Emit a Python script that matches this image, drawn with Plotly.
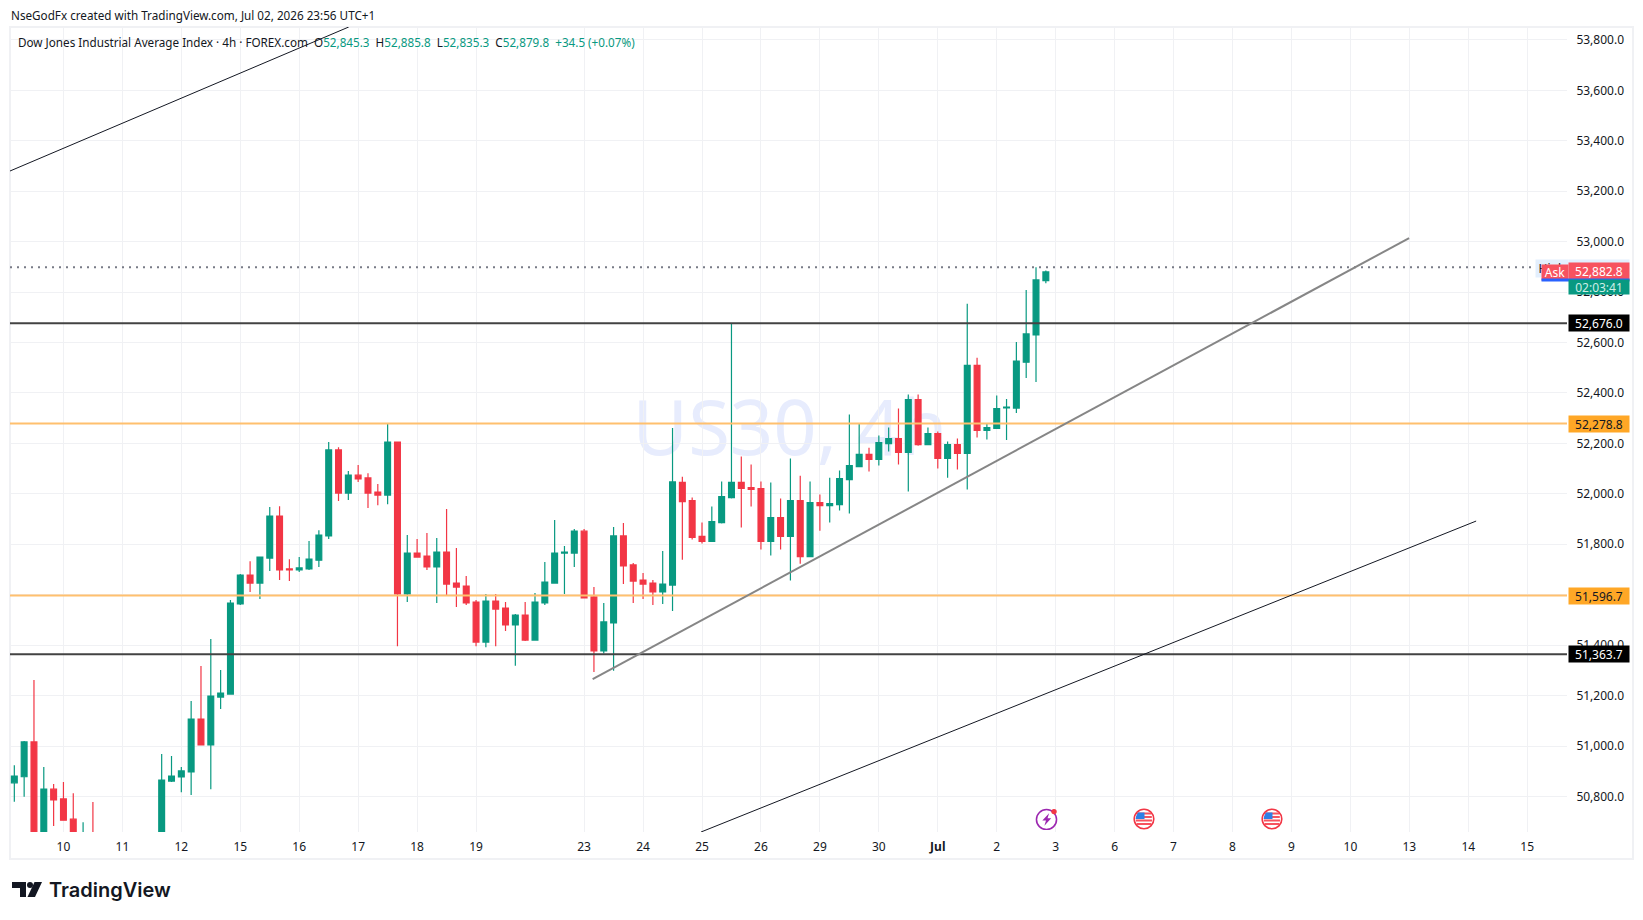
import base64
import plotly.graph_objects as go

# 4h candles (bars 7-14 sit below the visible range, estimated)
opens = [50854, 50878, 51016, 50640, 50829, 50790, 50710, 50560, 50640, 50570,
         50540, 50590, 50550, 50580, 50610, 50640, 50861, 50877, 50897, 51107,
         51004, 51194, 51206, 51563, 51678, 51646, 51745, 51912, 51702, 51698,
         51702, 51737, 51833, 52174, 52003, 52074, 52063, 52007, 51995, 52205,
         51603, 51765, 51753, 51710, 51769, 51646, 51634, 51571, 51412, 51575,
         51547, 51480, 51519, 51420, 51567, 51646, 51765, 51765, 51852, 51591,
         51377, 51488, 51833, 51718, 51658, 51646, 51611, 51638, 52045, 51973,
         51831, 51811, 51886, 51985, 52045, 52025, 52021, 51811, 51906, 51831,
         51973, 51751, 51965, 51953, 51957, 52056, 52108, 52156, 52136, 52199,
         52219, 52164, 52374, 52195, 52239, 52140, 52195, 52160, 52509, 52251,
         52259, 52341, 52340, 52522, 52630, 52845.3]
highs = [50924, 51020, 51262, 50917, 50849, 50857, 50813, 50698, 50778, 50630,
         50620, 50640, 50610, 50640, 50650, 50968, 50960, 50917, 51178, 51317,
         51424, 51301, 51579, 51682, 51733, 51749, 51948, 51951, 51741, 51749,
         51813, 51856, 52205, 52185, 52090, 52114, 52082, 52039, 52281, 52205,
         51837, 51821, 51845, 51825, 51940, 51785, 51674, 51579, 51603, 51603,
         51571, 51523, 51571, 51607, 51730, 51896, 51793, 51860, 51860, 51630,
         51567, 51868, 51884, 51726, 51686, 51658, 51773, 52261, 52068, 51985,
         51886, 51950, 52049, 52676, 52148, 52116, 52049, 52045, 51981, 52140,
         52072, 52049, 51997, 52064, 52092, 52314, 52279, 52183, 52231, 52263,
         52338, 52394, 52394, 52263, 52247, 52207, 52219, 52754, 52540, 52279,
         52390, 52376, 52602, 52808, 52898, 52885.8]
lows = [50779, 50799, 50620, 50620, 50683, 50704, 50620, 50540, 50550, 50520,
        50500, 50520, 50510, 50540, 50570, 50620, 50857, 50817, 50806, 51004,
        50829, 51147, 51206, 51559, 51611, 51583, 51694, 51658, 51654, 51690,
        51698, 51710, 51821, 51971, 51975, 52047, 51944, 51955, 51959, 51396,
        51571, 51749, 51698, 51567, 51595, 51551, 51559, 51396, 51392, 51396,
        51456, 51318, 51416, 51420, 51559, 51646, 51603, 51710, 51587, 51293,
        51367, 51298, 51642, 51567, 51583, 51559, 51563, 51535, 51739, 51819,
        51803, 51811, 51882, 51981, 51866, 51950, 51779, 51755, 51779, 51656,
        51723, 51751, 51854, 51886, 51934, 51922, 52108, 52088, 52112, 52168,
        52116, 52009, 52191, 52195, 52100, 52064, 52096, 52017, 52223, 52215,
        52259, 52213, 52320, 52459, 52443, 52835.3]
closes = [50881, 51016, 50640, 50829, 50786, 50706, 50640, 50640, 50570, 50540,
          50590, 50550, 50580, 50610, 50630, 50865, 50881, 50901, 51107, 51004,
          51198, 51210, 51567, 51678, 51646, 51749, 51912, 51698, 51698, 51706,
          51741, 51836, 52174, 52003, 52074, 52059, 52003, 51995, 52205, 51603,
          51765, 51749, 51710, 51769, 51642, 51630, 51567, 51412, 51575, 51543,
          51480, 51519, 51420, 51571, 51650, 51765, 51769, 51852, 51587, 51377,
          51492, 51833, 51714, 51654, 51642, 51611, 51642, 52047, 51969, 51827,
          51811, 51890, 51989, 52045, 52021, 52017, 51811, 51906, 51831, 51973,
          51751, 51965, 51953, 51961, 52060, 52112, 52156, 52136, 52203, 52219,
          52164, 52374, 52195, 52239, 52140, 52195, 52160, 52509, 52251, 52263,
          52338, 52344, 52526, 52634, 52848, 52879.8]
bar_index = list(range(len(opens)))

# day labels on the time axis, at the bar index where each day starts
day_ticks = [5, 11, 17, 23, 29, 35, 41, 47, 58, 64, 70, 76, 82, 88, 94, 100, 106,
             112, 118, 124, 130, 136, 142, 148, 154]
day_labels = ["10", "11", "12", "15", "16", "17", "18", "19", "23", "24", "25", "26", "29",
              "30", "<b>Jul</b>", "2", "3", "6", "7", "8", "9", "10", "13", "14", "15"]

black_levels = [52676.0, 51363.7]
orange_levels = [52278.8, 51596.7]
high_level = 52898.0
ask_price = 52882.8
# trend lines: bar index, price
trend_a_x, trend_a_y = [-0.44, 34.04], [53280, 53851]
trend_b_x, trend_b_y = [58.87, 141.98], [51265, 53014]
trend_c_x, trend_c_y = [69.9, 148.8], [50659, 51892]

W, H = 1643, 920
LEFT, RIGHT, TOP, BOTTOM = 10, 1567, 27, 832
FONT = "Noto Sans"
GREEN, RED = "#089981", "#f23645"
GRID = "#f0f1f4"


def px_x(px):
    return (px - LEFT) / (RIGHT - LEFT)


def px_y(py):
    return (BOTTOM - py) / (BOTTOM - TOP)


def svg_uri(body, vb):
    svg = f'<svg xmlns="http://www.w3.org/2000/svg" viewBox="{vb}">{body}</svg>'
    return "data:image/svg+xml;base64," + base64.b64encode(svg.encode()).decode()


flag_svg = svg_uri(
    '<circle cx="11" cy="11" r="9.8" fill="white" stroke="#f23645" stroke-width="1.6"/>'
    '<path d="M4 5.5H18M3.2 9H18.8M3 12.5H19M3.8 16H18.2" stroke="#f7525f" stroke-width="1.9"/>'
    '<path d="M3.5 4.5H11.5V11H2.6Q2.6 7 5.5 4.2Z" fill="#2e7fe6"/>', "0 0 22 22")
bolt_svg = svg_uri(
    '<circle cx="11" cy="12" r="9.6" fill="white" stroke="#9c27b0" stroke-width="1.5"/>'
    '<path d="M13.5 6L7 13H10.5L9 18L15.5 10.8H12Z" fill="#9c27b0"/>'
    '<circle cx="18.2" cy="4.4" r="2.6" fill="#f23645"/>', "0 0 22 22")
logo_svg = svg_uri(
    '<path d="M0 0H14V15H8V6H0Z" fill="#131722"/><circle cx="18" cy="3" r="3" fill="#131722"/>'
    '<path d="M22.5 0H30L23 15H15.5Z" fill="#131722"/>', "0 0 30 15")

fig = go.Figure(go.Candlestick(
    x=bar_index, open=opens, high=highs, low=lows, close=closes,
    increasing=dict(line=dict(color=GREEN, width=1.2), fillcolor=GREEN),
    decreasing=dict(line=dict(color=RED, width=1.2), fillcolor=RED),
    whiskerwidth=0, showlegend=False,
))

shapes = [
    # outer frame of the chart
    dict(type="rect", xref="paper", yref="paper", x0=px_x(10), x1=px_x(1633), y0=px_y(859), y1=px_y(27),
         line=dict(color=GRID, width=2), layer="below"),
    # watermark sits under the candles
    dict(type="rect", xref="paper", yref="paper", x0=px_x(600), x1=px_x(980), y0=px_y(480), y1=px_y(380),
         line=dict(width=0), layer="below",
         label=dict(text="US30, 4h", font=dict(family=FONT, size=76, color="#e7ecfd"),
                    textposition="middle center")),
]
for level in black_levels:
    shapes.append(dict(type="line", xref="paper", x0=0, x1=1, y0=level, y1=level,
                       line=dict(color="#434343", width=2)))
for level in orange_levels:
    shapes.append(dict(type="line", xref="paper", x0=0, x1=1, y0=level, y1=level,
                       line=dict(color="#ffc06e", width=2)))
shapes.append(dict(type="line", xref="paper", x0=0, x1=1, y0=high_level, y1=high_level,
                   line=dict(color="#787b86", width=2, dash="2px,5px")))
shapes.append(dict(type="line", x0=trend_a_x[0], x1=trend_a_x[1], y0=trend_a_y[0], y1=trend_a_y[1],
                   line=dict(color="#131722", width=1)))
shapes.append(dict(type="line", x0=trend_b_x[0], x1=trend_b_x[1], y0=trend_b_y[0], y1=trend_b_y[1],
                   line=dict(color="#868686", width=2)))
shapes.append(dict(type="line", x0=trend_c_x[0], x1=trend_c_x[1], y0=trend_c_y[0], y1=trend_c_y[1],
                   line=dict(color="#131722", width=1)))


def tag(text, y, bg, color="white", x=1568, width=60, height=16, yshift=0):
    return dict(text=text, xref="paper", yref="y", x=px_x(x), y=y, xanchor="left", yanchor="middle",
                yshift=yshift, showarrow=False, bgcolor=bg, width=width, height=height, borderpad=0,
                align="center", font=dict(family=FONT, size=12, color=color))


def note(text, px, py, size=11.7, color="#131722", anchor="left", **kw):
    return dict(text=text, xref="paper", yref="paper", x=px_x(px), y=px_y(py), xanchor=anchor,
                yanchor="middle", showarrow=False, font=dict(family=kw.pop("family", FONT), size=size, color=color, **kw))


values = (
    f'<span style="color:{GREEN}">52,845.3</span>  H<span style="color:{GREEN}">52,885.8</span>  '
    f'L<span style="color:{GREEN}">52,835.3</span>  C<span style="color:{GREEN}">52,879.8</span>  '
    f'<span style="color:{GREEN}">+34.5 (+0.07%)</span>'
)
annotations = [
    note("NseGodFx created with TradingView.com, Jul 02, 2026 23:56 UTC+1", 9, 15),
    note("Dow Jones Industrial Average Index · 4h · FOREX.com  O" + values, 16, 42),
    note("TradingView", 47, 890, size=20, family="Inter", weight=600),
    tag("52,676.0", black_levels[0], "#000000"),
    tag("51,363.7", black_levels[1], "#000000"),
    tag("52,278.8", orange_levels[0], "#ffa726", color="#131722"),
    tag("51,596.7", orange_levels[1], "#ffa726", color="#131722"),
    tag("High", ask_price, "#e3effd", color="#131722", x=1535, width=32, height=17, yshift=3),
    tag("52,898.0", ask_price, "#e3effd", color="#131722", height=17, yshift=3),
    tag("Ask", ask_price, "#f7525f", x=1541, width=26, height=15, yshift=-1),
    tag("52,882.8", ask_price, "#f7525f", height=17, yshift=0),
    tag("", ask_price, "#2962ff", x=1541, width=87, height=2, yshift=-9),
    tag("02:03:41", ask_price, "#089981", color="#cfeee7", height=14, yshift=-16),
]

images = [
    dict(source=bolt_svg, xref="paper", yref="paper", x=px_x(1035), y=px_y(807), sizex=23 / (RIGHT - LEFT),
         sizey=23 / (BOTTOM - TOP), xanchor="left", yanchor="top", sizing="contain", layer="above"),
    dict(source=flag_svg, xref="paper", yref="paper", x=px_x(1133), y=px_y(808), sizex=22 / (RIGHT - LEFT),
         sizey=22 / (BOTTOM - TOP), xanchor="left", yanchor="top", sizing="contain", layer="above"),
    dict(source=flag_svg, xref="paper", yref="paper", x=px_x(1261), y=px_y(808), sizex=22 / (RIGHT - LEFT),
         sizey=22 / (BOTTOM - TOP), xanchor="left", yanchor="top", sizing="contain", layer="above"),
    dict(source=logo_svg, xref="paper", yref="paper", x=px_x(12), y=px_y(882), sizex=30 / (RIGHT - LEFT),
         sizey=15 / (BOTTOM - TOP), xanchor="left", yanchor="top", sizing="contain", layer="above"),
]

fig.update_layout(
    width=W, height=H, autosize=False,
    margin=dict(l=LEFT, r=W - RIGHT, t=TOP, b=H - BOTTOM, pad=0),
    paper_bgcolor="white", plot_bgcolor="white",
    font=dict(family=FONT, size=12, color="#131722"),
    boxgap=0.2, boxgroupgap=0.26,
    shapes=shapes, annotations=annotations, images=images,
    xaxis=dict(range=[-0.44, 158.05], tickmode="array", tickvals=day_ticks, ticktext=day_labels,
               rangeslider=dict(visible=False), showgrid=True, gridcolor=GRID, gridwidth=1,
               zeroline=False, showline=False, ticks="outside", ticklen=4, tickcolor="rgba(0,0,0,0)",
               tickfont=dict(family=FONT, size=12, color="#131722")),
    yaxis=dict(range=[50659, 53851], side="right", dtick=200, tick0=0, tickformat=",.1f",
               showgrid=True, gridcolor=GRID, gridwidth=1, zeroline=False, showline=False,
               ticks="outside", ticklen=6, tickcolor="rgba(0,0,0,0)",
               tickfont=dict(family=FONT, size=12, color="#131722")),
)

fig.write_html("out.html", config=dict(displayModeBar=False), post_script="document.body.style.margin='0';")
